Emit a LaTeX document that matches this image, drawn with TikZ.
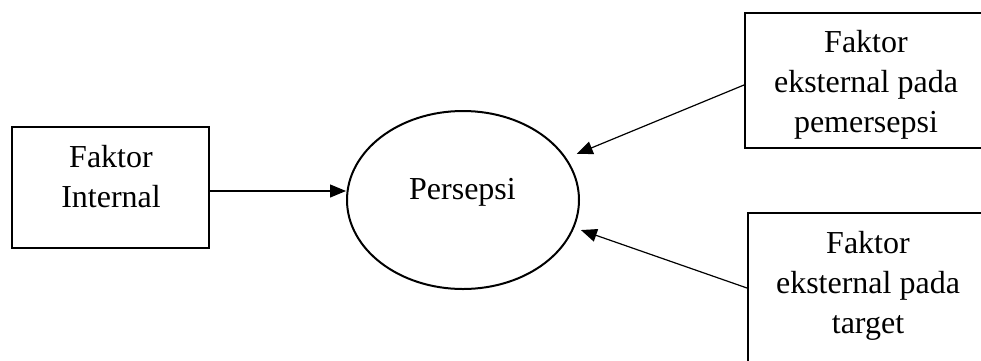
\documentclass[tikz,border=0pt]{standalone}
\usepackage{fontspec}
\setmainfont{Liberation Serif}
\usetikzlibrary{shapes.geometric,arrows.meta}
\begin{document}
\begin{tikzpicture}[x=0.5pt,y=-0.5pt,
  box/.style={draw, line width=1pt, inner sep=0pt},
  txt/.style={align=center, font=\fontsize{16}{20}\selectfont, inner sep=0pt},
  conn/.style={line width=0.6pt, -{Triangle[length=8pt,width=6.5pt]}}]
\useasboundingbox (0,0) rectangle (981,360);
\clip (0,0) rectangle (981,360);
% boxes
\node[box, minimum width=98.5pt, minimum height=60.5pt] (lb) at (110.5,187.5) {};
\node[txt] (lt) at (111,177) {Faktor\\Internal};
\node[draw, ellipse, line width=1pt, minimum width=116pt, minimum height=89pt, inner sep=0pt] (ell) at (463,200) {};
\node[txt] (et) at (462.5,192.5) {Persepsi};
\node[box, minimum width=121pt, minimum height=67.5pt] (tr) at (866,80.5) {};
\node[txt] (trt) at (866,85) {Faktor\\eksternal pada\\pemersepsi};
\node[box, minimum width=120pt, minimum height=83.5pt] (br) at (868,296.5) {};
\node[txt] (brt) at (868,285.5) {Faktor\\eksternal pada\\target};
% connectors
\draw[conn] ([yshift=-1.75pt]lb.east) -- ([yshift=-1.75pt]lb.east -| ell.west);
\draw[conn, shorten >=5.5pt] ([yshift=-2.25pt]tr.west) -- (ell.22.2);
\draw[conn, shorten >=3.5pt] ([yshift=4.25pt]br.west) -- (ell.-14.1);
\end{tikzpicture}
\end{document}
